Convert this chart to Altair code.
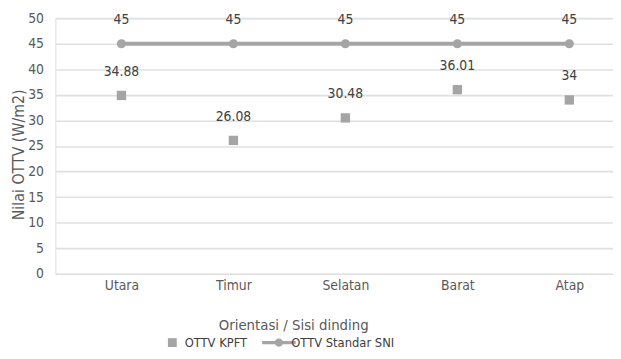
import altair as alt
import pandas as pd

categories = ["Utara", "Timur", "Selatan", "Barat", "Atap"]
kpft_values = [34.88, 26.08, 30.48, 36.01, 34]
sni_values = [45, 45, 45, 45, 45]
series_names = ["OTTV KPFT", "OTTV Standar SNI"]
y_ticks = [0, 5, 10, 15, 20, 25, 30, 35, 40, 45, 50]

rows = []
for i, c in enumerate(categories):
    rows.append({"idx": i, "cat": c, "series": series_names[0], "value": kpft_values[i],
                 "label": f"{kpft_values[i]:g}"})
    rows.append({"idx": i, "cat": c, "series": series_names[1], "value": sni_values[i],
                 "label": f"{sni_values[i]:g}"})
df = pd.DataFrame(rows)

NARROW = "DejaVu Sans Condensed, Liberation Sans Narrow, sans-serif"
GREY = "#a5a5a5"
TXT = "#595959"

label_expr = "[" + ",".join(f"'{c}'" for c in categories) + "][datum.value]"

x_enc = alt.X(
    "idx:Q",
    scale=alt.Scale(domain=[-0.59, 4.39], nice=False, zero=False),
    axis=alt.Axis(
        values=list(range(len(categories))),
        labelExpr=label_expr,
        grid=False, ticks=False, domain=False,
        labelFont=NARROW, labelFontSize=14, labelColor=TXT, labelPadding=5,
        title="Orientasi / Sisi dinding",
        titleFont=NARROW, titleFontSize=15, titleColor=TXT, titleFontWeight="normal",
        titlePadding=25, titleX=241, titleAlign="center",
    ),
)

y_enc = alt.Y(
    "value:Q",
    scale=alt.Scale(domain=[0, 50], nice=False),
    axis=alt.Axis(
        values=y_ticks, labelOverlap=False,
        grid=True, gridColor="#e0e0e0", gridWidth=1.6,
        ticks=False, domain=False,
        labelFont=NARROW, labelFontSize=14, labelColor=TXT, labelPadding=12,
        title="Nilai OTTV (W/m2)",
        titleFont=NARROW, titleFontSize=16,
        titleColor=TXT, titleFontWeight="normal",
        titleX=-37, titleY=138, titleAngle=270, titleBaseline="middle", titleAlign="center",
    ),
)

line_sym = ("M-3.8,-0.36L3.8,-0.36L3.8,0.36L-3.8,0.36Z"
            "M-0.95,0A0.95,0.95 0 1,1 0.95,0A0.95,0.95 0 1,1 -0.95,0Z")

base = alt.Chart(df)

kpft = base.transform_filter(alt.datum.series == series_names[0]).mark_point(
    filled=True, opacity=1, size=90, color=GREY
).encode(
    x=x_enc,
    y=y_enc,
    shape=alt.Shape(
        "series:N",
        scale=alt.Scale(domain=series_names, range=["square", line_sym]),
        legend=alt.Legend(
            title=None, orient="none", direction="horizontal",
            legendX=112, legendY=322,
            labelFont=NARROW, labelFontSize=13, labelColor="#404040",
            symbolSize=80, symbolFillColor=GREY, symbolStrokeColor=GREY,
            symbolStrokeWidth=0, labelOffset=6, columnPadding=14,
        ),
    ),
)

sni_line = base.transform_filter(alt.datum.series == series_names[1]).mark_line(
    color=GREY, strokeWidth=4
).encode(x=x_enc, y=y_enc)

sni_pts = base.transform_filter(alt.datum.series == series_names[1]).mark_circle(
    color=GREY, size=85, opacity=1
).encode(x=x_enc, y=y_enc)

labels = base.mark_text(
    font=NARROW, fontSize=14, color="#404040", dy=-24, baseline="middle"
).encode(x=x_enc, y=y_enc, text="label:N")

chart = alt.layer(kpft, sni_line, sni_pts, labels).properties(
    width=565, height=259,
    autosize=alt.AutoSizeParams(type="none"),
    padding={"left": 48, "top": 8, "right": 0, "bottom": 76},
).configure_view(stroke=None).configure(background="white")

chart.save("out.html", embed_options={"renderer": "svg", "actions": False})
